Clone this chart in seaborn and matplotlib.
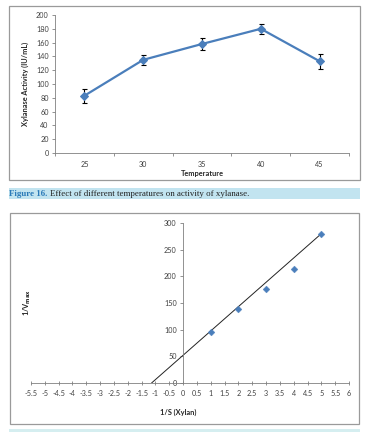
import matplotlib
matplotlib.use("Agg")
import matplotlib.pyplot as plt
import matplotlib.patches as mpatches
import numpy as np
import pandas as pd
import seaborn as sns

# ---- data ----
temperatures = ["25", "30", "35", "40", "45"]
activity = [83, 135, 158, 180, 133]
activity_err = [10, 7, 8, 7, 11]

inv_s = [1, 2, 3, 4, 5]
inv_v = [95, 138, 176, 214, 280]
trend_slope = 45.6
trend_intercept = 52
x_ticks2 = [-5.5, -5, -4.5, -4, -3.5, -3, -2.5, -2, -1.5, -1, -0.5, 0, 0.5, 1, 1.5, 2, 2.5, 3, 3.5, 4, 4.5, 5, 5.5, 6]
y_ticks2 = [0, 50, 100, 150, 200, 250, 300]
y_ticks1 = list(range(0, 201, 20))

sns.set_theme(style="white")
plt.rcParams['font.family'] = ['Lato', 'DejaVu Sans']

W, H = 386, 432
fig = plt.figure(figsize=(W / 100, H / 100), dpi=100)
fig.patch.set_facecolor("white")

def fx(px):
    return px / W

def fy(py):
    return 1 - py / H

# frames
frame_col = "#9a9a9a"
fig.add_artist(mpatches.Rectangle((fx(9), fy(180)), fx(351), (180 - 6) / H,
                                  fill=False, edgecolor=frame_col, lw=0.9, transform=fig.transFigure))
fig.add_artist(mpatches.Rectangle((fx(10), fy(424)), fx(349), (424 - 213) / H,
                                  fill=False, edgecolor=frame_col, lw=0.9, transform=fig.transFigure))
# caption bar
fig.add_artist(mpatches.Rectangle((fx(9), fy(199)), fx(351), 11 / H,
                                  facecolor="#c2e4f0", edgecolor="none", transform=fig.transFigure))
fig.add_artist(mpatches.Rectangle((fx(9), fy(432)), fx(351), 3 / H,
                                  facecolor="#d5eef0", edgecolor="none", transform=fig.transFigure))

tick_fs = 5.2
lab_fs = 5.3
grey = "#404040"

# ---- top chart ----
ax1 = fig.add_axes([fx(55), fy(153), fx(349 - 55), (153 - 15) / H])
df1 = pd.DataFrame({"pos": np.arange(len(temperatures)), "act": activity})
ax1.errorbar(df1["pos"], df1["act"], yerr=activity_err, fmt="none", ecolor="black",
             elinewidth=0.8, capsize=1.8, capthick=0.8, zorder=2)
sns.lineplot(data=df1, x="pos", y="act", ax=ax1, color="#4a7ebb", lw=1.6,
             marker="D", markersize=4, markeredgecolor="#4a7ebb", zorder=3)
ax1.set_xlim(-0.5, len(temperatures) - 0.5)
ax1.set_ylim(0, 200)
ax1.set_yticks(y_ticks1)
ax1.set_yticklabels([str(v) for v in y_ticks1], fontsize=tick_fs, color=grey)
ax1.set_xticks(np.arange(len(temperatures) + 1) - 0.5)
ax1.set_xticklabels([])
ax1.set_xticks(np.arange(len(temperatures)), minor=True)
ax1.set_xticklabels(temperatures, minor=True, fontsize=tick_fs, color=grey)
ax1.tick_params(axis="x", which="major", length=2.5, width=0.6, color="#808080", direction="out", bottom=True)
ax1.tick_params(axis="x", which="minor", length=0, pad=6)
ax1.tick_params(axis="y", length=2.5, width=0.6, color="#808080", direction="out", left=True, pad=2)
for s in ["top", "right"]:
    ax1.spines[s].set_visible(False)
for s in ["left", "bottom"]:
    ax1.spines[s].set_color("#808080")
    ax1.spines[s].set_linewidth(0.6)
ax1.set_xlabel("Temperature", fontsize=lab_fs, fontweight="bold", labelpad=1)
ax1.set_ylabel("Xylanase Activity (IU/mL)", fontsize=lab_fs, fontweight="bold", labelpad=5)
ax1.patch.set_alpha(0)

# caption
fig.text(fx(9), fy(193.5), "Figure 16.", fontsize=6.4, color="#2a7ab8", fontweight="bold",
         family=["Liberation Serif"], va="center", ha="left")
fig.text(fx(49.5), fy(193.5), "Effect of different temperatures on activity of xylanase.",
         fontsize=6.4, color="#222222", family=["Liberation Serif"], va="center", ha="left")

# ---- bottom chart ----
ax2 = fig.add_axes([fx(31), fy(383), fx(349 - 31), (383 - 223) / H])
df2 = pd.DataFrame({"x": inv_s, "y": inv_v})
x_start = -trend_intercept / trend_slope
xs = np.array([x_start, max(inv_s)])
ax2.plot(xs, trend_intercept + trend_slope * xs, color="#222222", lw=0.7, zorder=2)
sns.scatterplot(data=df2, x="x", y="y", ax=ax2, marker="D", s=12, color="#4a7ebb",
                edgecolor="#4a7ebb", zorder=3)
ax2.set_xlim(-5.5, 6)
ax2.set_ylim(0, 300)
ax2.spines["left"].set_position(("data", 0))
ax2.spines["bottom"].set_position(("data", 0))
for s in ["top", "right"]:
    ax2.spines[s].set_visible(False)
for s in ["left", "bottom"]:
    ax2.spines[s].set_color("#808080")
    ax2.spines[s].set_linewidth(0.6)
ax2.set_xticks(x_ticks2)
ax2.set_xticklabels([("%g" % v) for v in x_ticks2], fontsize=tick_fs, color=grey)
ax2.set_yticks(y_ticks2)
ax2.set_yticklabels([str(v) for v in y_ticks2], fontsize=tick_fs, color=grey)
ax2.tick_params(axis="x", length=2.5, width=0.6, color="#808080", direction="inout", bottom=True, pad=4)
ax2.tick_params(axis="y", length=2.5, width=0.6, color="#808080", direction="out", left=True, pad=2)
ax2.set_xlabel("")
ax2.set_ylabel("")
ax2.patch.set_alpha(0)
fig.text(fx(178), fy(412), "1/S (Xylan)", fontsize=lab_fs, fontweight="bold", ha="center", va="center")
fig.text(fx(27), fy(302), "1/V$_{\\mathbf{max}}$", fontsize=lab_fs, fontweight="bold", rotation=90,
         ha="center", va="center")

fig.savefig("out.png", dpi=100)
